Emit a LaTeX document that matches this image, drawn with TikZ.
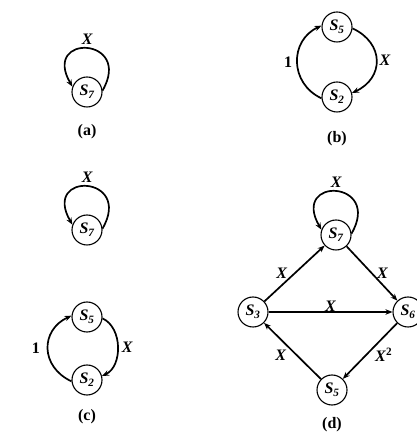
\documentclass[tikz,border=0pt]{standalone}
\usepackage{fontspec}
\setmainfont{Liberation Serif}
\usetikzlibrary{positioning, arrows.meta}

\newcommand{\stname}[1]{\textbf{\textit{S\textsubscript{#1}}}}
\newcommand{\lx}{\textbf{\textit{X}}}

\begin{document}
\begin{tikzpicture}[
        x=1pt, y=1pt,
        font=\fontsize{16}{18}\selectfont,
        state/.style={circle, draw, line width=1.1pt, minimum size=30pt, inner sep=0pt},
        arrow/.style={-{Stealth[length=7pt, width=5.5pt]}, line width=1.7pt},
        figlabel/.style={font=\fontsize{16}{18}\selectfont\bfseries},
    ]
        \useasboundingbox (0,0) rectangle (416,433);

        % (a)
        \node[state] (a7) at (87,341) {\stname{7}};
        \draw[arrow] (a7.5) .. controls +(60:62pt) and +(120:62pt) .. node[above=0pt] {\lx} (a7.160);
        \node[figlabel, below=13pt of a7] {(a)};

        % (b)
        \node[state] (b5) at (337,406) {\stname{5}};
        \node[state] (b2) at (337,336) {\stname{2}};
        \draw[arrow] (b2.185) to[out=155, in=205, looseness=1.25] node[left=1pt] {\textbf{1}} (b5.175);
        \draw[arrow] (b5.355) to[out=-25, in=25, looseness=1.4] node[right=-1pt] {\lx} (b2.15);
        \node[figlabel, below=15pt of b2] {(b)};

        % (c)
        \node[state] (c7) at (87,203) {\stname{7}};
        \draw[arrow] (c7.5) .. controls +(60:62pt) and +(120:62pt) .. node[above=0pt] {\lx} (c7.160);

        \node[state] (c5) at (87,116) {\stname{5}};
        \node[state] (c2) at (87,53) {\stname{2}};
        \draw[arrow] (c2.185) to[out=155, in=205, looseness=1.35] node[left=4pt] {\textbf{1}} (c5.175);
        \draw[arrow] (c5.355) to[out=-25, in=25, looseness=1.0] node[right=0pt] {\lx} (c2.15);
        \node[figlabel, below=10pt of c2] {(c)};

        % (d)
        \node[state] (d7) at (336,198) {\stname{7}};
        \node[state] (d3) at (253,121) {\stname{3}};
        \node[state] (d6) at (408,121) {\stname{6}};
        \node[state] (d5) at (332,43) {\stname{5}};
        \draw[arrow] (d7.5) .. controls +(60:62pt) and +(120:62pt) .. node[above=0pt] {\lx} (d7.160);
        \draw[arrow] (d3) -- node[left=3pt] {\lx} (d7);
        \draw[arrow] (d7) -- node[right=1pt] {\lx} (d6);
        \draw[arrow] (d3) -- node[above=-4pt] {\lx} (d6);
        \draw[arrow] (d6) -- node[right=1pt, yshift=-4pt] {\lx\textsuperscript{\textbf{2}}} (d5);
        \draw[arrow] (d5) -- node[left=2pt, yshift=-4pt] {\lx} (d3);
        \node[figlabel, below=8pt of d5] {(d)};

    \end{tikzpicture}
\end{document}
